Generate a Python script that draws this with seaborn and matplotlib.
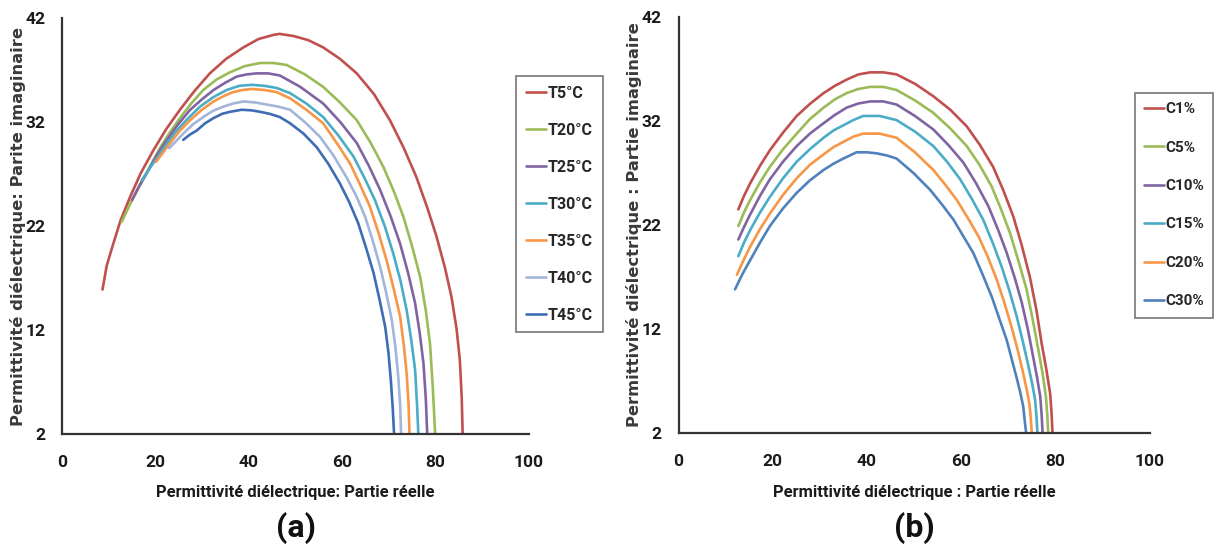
import matplotlib
matplotlib.use("Agg")
import matplotlib.pyplot as plt
import seaborn as sns
import pandas as pd

# ---------------- data: panel (a) temperature ----------------
T5_x = [8.6, 9.5, 10.9, 12.5, 14.5, 16.8, 19.5, 22.2, 25.2, 28.3, 31.6, 35.1, 38.8, 42.0, 45.2, 46.5, 49.5,
        52.7, 55.9, 59.5, 63.1, 66.8, 70.2, 73.2, 75.9, 78.2, 80.2, 82.0, 83.4, 84.5, 85.2, 85.6, 85.8]
T5_y = [15.9, 18.2, 20.3, 22.6, 24.8, 27.1, 29.3, 31.3, 33.2, 35.0, 36.7, 38.1, 39.2, 40.0, 40.4, 40.5, 40.3,
        39.9, 39.2, 38.1, 36.7, 34.7, 32.2, 29.5, 26.7, 23.8, 21.0, 18.0, 15.2, 12.1, 9.1, 5.5, 2.0]
T20_x = [12.7, 14.6, 16.6, 18.7, 20.9, 23.0, 25.2, 27.6, 30.2, 33.0, 35.9, 39.1, 42.4, 45.3, 48.1, 52.0,
         55.9, 59.5, 63.1, 66.1, 68.8, 71.1, 73.1, 75.0, 76.7, 77.9, 78.8, 79.4, 79.9]
T20_y = [22.4, 24.2, 25.9, 27.7, 29.5, 31.0, 32.4, 33.8, 35.1, 36.1, 36.8, 37.4, 37.7, 37.7, 37.5, 36.6,
         35.4, 33.9, 32.2, 30.0, 27.7, 25.3, 22.9, 20.0, 17.1, 13.9, 10.7, 6.5, 2.0]
T25_x = [14.9, 16.5, 18.1, 20.2, 22.4, 24.8, 27.4, 29.9, 32.4, 34.9, 37.4, 39.5, 41.6, 44.1, 46.6, 51.0,
         55.9, 59.6, 63.1, 65.7, 68.1, 70.4, 72.4, 74.1, 75.6, 76.6, 77.4, 77.9, 78.2]
T25_y = [24.5, 25.9, 27.1, 28.8, 30.3, 31.8, 33.2, 34.2, 35.1, 35.8, 36.4, 36.6, 36.7, 36.7, 36.5, 35.4,
         33.8, 32.0, 30.0, 27.8, 25.5, 22.9, 20.3, 17.5, 14.6, 11.7, 8.8, 5.4, 2.0]
T30_x = [17.0, 18.6, 20.2, 22.3, 24.5, 27.0, 29.5, 32.3, 35.2, 37.9, 40.6, 43.3, 45.9, 48.8, 52.3, 55.9,
         59.2, 62.4, 64.8, 67.0, 69.1, 70.9, 72.5, 73.8, 74.8, 75.6, 76.0, 76.3]
T30_y = [26.4, 27.5, 28.5, 29.9, 31.2, 32.4, 33.5, 34.4, 35.1, 35.5, 35.6, 35.5, 35.3, 34.8, 33.8, 32.5,
         30.7, 28.7, 26.6, 24.5, 22.0, 19.4, 16.7, 13.9, 11.0, 8.2, 5.0, 2.0]
T35_x = [20.1, 21.6, 23.1, 25.2, 27.4, 29.9, 32.4, 34.5, 36.6, 38.6, 40.6, 43.3, 45.9, 48.8, 52.3, 55.9,
         58.8, 61.7, 63.8, 65.9, 67.8, 69.5, 71.0, 72.4, 73.2, 73.8, 74.2, 74.4]
T35_y = [28.2, 29.1, 30.0, 31.2, 32.2, 33.2, 34.0, 34.5, 34.9, 35.1, 35.2, 35.1, 34.9, 34.3, 33.2, 31.9,
         30.0, 28.0, 26.0, 23.9, 21.3, 18.7, 16.0, 13.3, 10.5, 7.8, 4.9, 2.0]
T40_x = [22.9, 24.4, 25.9, 28.0, 30.2, 32.3, 34.5, 36.6, 38.8, 41.3, 43.8, 46.3, 48.8, 52.0, 55.2, 58.1,
         60.9, 63.0, 64.9, 66.6, 68.1, 69.4, 70.6, 71.4, 72.0, 72.4, 72.6]
T40_y = [29.5, 30.2, 30.9, 31.8, 32.5, 33.1, 33.5, 33.8, 34.0, 33.9, 33.7, 33.5, 33.2, 32.0, 30.6, 28.8,
         26.7, 24.9, 22.9, 20.5, 18.1, 15.6, 13.0, 10.3, 7.5, 4.8, 2.0]
T45_x = [25.9, 27.3, 28.8, 30.6, 32.4, 34.2, 35.9, 37.2, 38.4, 40.4, 42.4, 44.5, 46.6, 48.8, 51.7, 54.5,
         57.0, 59.5, 61.5, 63.4, 65.1, 66.7, 68.0, 69.2, 69.9, 70.4, 70.8, 71.1]
T45_y = [30.3, 30.8, 31.2, 31.9, 32.4, 32.8, 33.0, 33.1, 33.2, 33.15, 33.0, 32.8, 32.5, 31.9, 30.9, 29.6,
         28.0, 26.1, 24.3, 22.3, 19.9, 17.5, 14.9, 12.3, 9.8, 7.2, 4.6, 2.0]
labels_a = ["T5°C", "T20°C", "T25°C", "T30°C", "T35°C", "T40°C", "T45°C"]

# ---------------- data: panel (b) concentration ----------------
C1_x = [12.7, 13.9, 15.2, 17.3, 19.4, 22.2, 25.1, 28.0, 30.8, 33.2, 35.7, 38.2, 40.7, 43.5, 46.3, 50.2,
        54.1, 57.7, 61.2, 64.0, 66.8, 69.0, 71.1, 72.9, 74.6, 76.0, 77.1, 78.1, 78.9, 79.2, 79.4]
C1_y = [23.5, 24.8, 26.0, 27.7, 29.2, 30.9, 32.5, 33.7, 34.7, 35.4, 36.0, 36.5, 36.7, 36.7, 36.5, 35.6,
        34.4, 33.1, 31.5, 29.7, 27.6, 25.3, 22.8, 20.0, 17.0, 13.8, 10.6, 8.1, 5.8, 3.9, 2.0]
C5_x = [12.7, 13.9, 15.2, 17.3, 19.4, 22.2, 25.1, 27.9, 30.8, 33.2, 35.7, 38.2, 40.7, 43.5, 46.3, 50.2,
        54.1, 57.7, 61.2, 63.9, 66.5, 68.5, 70.4, 72.2, 73.9, 75.2, 76.4, 77.3, 78.0, 78.3, 78.5]
C5_y = [21.9, 23.2, 24.4, 26.1, 27.6, 29.3, 30.8, 32.2, 33.3, 34.1, 34.7, 35.1, 35.3, 35.3, 35.0, 34.0,
        32.8, 31.3, 29.6, 27.8, 25.7, 23.5, 21.2, 18.5, 15.8, 12.9, 10.0, 7.7, 5.5, 3.7, 2.0]
C10_x = [12.7, 13.9, 15.2, 17.3, 19.4, 22.2, 25.1, 27.9, 30.8, 33.2, 35.7, 38.2, 40.7, 43.5, 46.3, 50.2,
         54.1, 57.3, 60.5, 63.2, 65.8, 67.8, 69.7, 71.4, 72.9, 74.2, 75.3, 76.1, 76.8, 77.1, 77.3]
C10_y = [20.6, 21.8, 23.0, 24.8, 26.4, 28.1, 29.6, 30.8, 31.8, 32.6, 33.3, 33.7, 33.9, 33.9, 33.6, 32.5,
         31.2, 29.7, 28.0, 26.0, 23.8, 21.6, 19.3, 16.9, 14.5, 11.9, 9.3, 7.4, 5.5, 3.7, 2.0]
C15_x = [12.7, 13.9, 15.2, 17.3, 19.4, 22.2, 25.1, 27.9, 30.8, 32.9, 35.0, 37.1, 39.2, 42.7, 46.3, 50.2,
         54.1, 57.0, 59.8, 62.3, 64.7, 66.7, 68.6, 70.3, 71.8, 73.1, 74.3, 75.1, 75.7, 76.0, 76.2]
C15_y = [19.0, 20.3, 21.5, 23.2, 24.7, 26.5, 28.1, 29.3, 30.4, 31.1, 31.6, 32.1, 32.5, 32.5, 32.1, 31.0,
         29.6, 28.1, 26.4, 24.5, 22.5, 20.3, 18.0, 15.6, 13.2, 10.8, 8.4, 6.7, 5.2, 3.6, 2.0]
C20_x = [12.4, 13.8, 15.2, 17.3, 19.4, 22.2, 25.1, 27.9, 30.8, 32.9, 35.0, 37.1, 39.2, 42.7, 46.3, 50.2,
         54.1, 56.6, 59.1, 61.4, 63.7, 65.7, 67.6, 69.2, 70.7, 72.0, 73.2, 73.9, 74.5, 74.8, 75.0]
C20_y = [17.2, 18.6, 19.9, 21.6, 23.1, 24.9, 26.5, 27.8, 28.8, 29.5, 30.0, 30.5, 30.8, 30.8, 30.4, 29.0,
         27.3, 25.9, 24.4, 22.7, 20.9, 18.9, 16.7, 14.5, 12.2, 10.0, 7.7, 6.2, 4.8, 3.4, 2.0]
C30_x = [12.0, 13.6, 15.2, 17.3, 19.4, 22.2, 25.1, 27.9, 30.8, 32.9, 35.0, 36.4, 37.8, 40.0, 42.1, 44.2,
         46.3, 49.9, 53.4, 55.9, 58.4, 60.5, 62.6, 64.6, 66.5, 68.1, 69.7, 70.8, 71.9, 72.6, 73.2, 73.5, 73.8]
C30_y = [15.8, 17.3, 18.6, 20.3, 21.9, 23.6, 25.1, 26.3, 27.3, 27.9, 28.4, 28.7, 29.0, 29.0, 28.9, 28.7,
         28.4, 27.0, 25.4, 24.0, 22.5, 20.9, 19.3, 17.2, 15.1, 13.0, 10.9, 9.0, 7.1, 5.8, 4.5, 3.2, 2.0]
labels_b = ["C1%", "C5%", "C10%", "C15%", "C20%", "C30%"]

x_ticks = [0, 20, 40, 60, 80, 100]
y_ticks = [2, 12, 22, 32, 42]

colors_a = ["#C0504D", "#9BBB59", "#8064A2", "#4BACC6", "#F79646", "#A3B5D9", "#3E6DB5"]
colors_b = ["#C0504D", "#9BBB59", "#8064A2", "#4BACC6", "#F79646", "#4F81BD"]

sns.set_theme(style="white")
plt.rcParams["font.family"] = ["Roboto", "DejaVu Sans"]

def long_frame(xs, ys, labels):
    rows = []
    for xv, yv, lab in zip(xs, ys, labels):
        for i, (a, b) in enumerate(zip(xv, yv)):
            rows.append({"x": a, "y": b, "serie": lab, "i": i})
    return pd.DataFrame(rows)

df_a = long_frame([T5_x, T20_x, T25_x, T30_x, T35_x, T40_x, T45_x],
                  [T5_y, T20_y, T25_y, T30_y, T35_y, T40_y, T45_y], labels_a)
df_b = long_frame([C1_x, C5_x, C10_x, C15_x, C20_x, C30_x],
                  [C1_y, C5_y, C10_y, C15_y, C20_y, C30_y], labels_b)

fig = plt.figure(figsize=(12.14, 5.53), dpi=100)
ax_a = fig.add_axes([62.4 / 1214, 1 - 434 / 553, 466.5 / 1214, (434 - 18.3) / 553])
ax_b = fig.add_axes([678.5 / 1214, 1 - 432.7 / 553, 471 / 1214, (432.7 - 17.3) / 553])

FAM = ["Roboto", "DejaVu Sans"]
tick_font = dict(family=FAM, weight="bold", size=12.5)
lab_font = dict(family=FAM, weight="bold", size=11.9)

panels = [
    (ax_a, df_a, labels_a, colors_a, "Permittivité diélectrique: Partie réelle",
     "Permittivité diélectrique: Parite imaginaire", "(a)", (516 / 1214, 1 - 76 / 553), 1.38, 11.5),
    (ax_b, df_b, labels_b, colors_b, "Permittivité diélectrique : Partie réelle",
     "Permittivité diélectrique : Partie imaginaire", "(b)", (1135 / 1214, 1 - 93 / 553), 1.6, 11.0),
]

for ax, df, labels, cols, xl, yl, tag, legpos, lsp, lfs in panels:
    sns.lineplot(data=df, x="x", y="y", hue="serie", hue_order=labels,
                 palette=dict(zip(labels, cols)), sort=False, estimator=None,
                 units="serie", linewidth=1.9, ax=ax, legend=False)
    ax.set_xlim(0, 100)
    ax.set_ylim(2, 42)
    ax.set_xticks(x_ticks)
    ax.set_yticks(y_ticks)
    ax.set_xticklabels([str(v) for v in x_ticks], fontdict=tick_font)
    ax.set_yticklabels([str(v) for v in y_ticks], fontdict=tick_font)
    for s in ["top", "right"]:
        ax.spines[s].set_visible(False)
    for s in ["left", "bottom"]:
        ax.spines[s].set_color("#333333")
        ax.spines[s].set_linewidth(1.6)
    ax.tick_params(axis="both", direction="in", length=5, width=1.4, color="#333333",
                   labelcolor="#1a1a1a")
    ax.tick_params(axis="x", pad=15)
    ax.tick_params(axis="y", pad=12)
    ax.set_xlabel("")
    ax.set_ylabel("")
    ax.grid(False)

    pos = ax.get_position()
    cx = pos.x0 + pos.width / 2
    fig.text(cx, 1 - 493 / 553, xl, ha="center", va="center", **lab_font, color="#1a1a1a")
    fig.text(cx, 1 - 528 / 553, tag, ha="center", va="center", family=FAM,
             weight="bold", size=23, color="#111111")
    fig.text(pos.x0 - 44 / 1214, pos.y0 + pos.height / 2, yl, rotation=90, ha="center",
             va="center", family=["DejaVu Sans"], weight="bold", size=11.8, color="#3a3a3a")

    handles = ax.get_lines()[:len(labels)]
    leg = ax.legend(handles, labels, loc="upper left", bbox_to_anchor=legpos,
                    bbox_transform=fig.transFigure, borderaxespad=0, frameon=True,
                    fancybox=False, handlelength=1.3, handletextpad=0.1,
                    labelspacing=lsp, borderpad=0.6,
                    prop=dict(family=FAM, weight="bold", size=lfs))
    leg.get_frame().set_edgecolor("#555555")
    leg.get_frame().set_linewidth(1.2)

fig.savefig("out.png", dpi=100, facecolor="white")
